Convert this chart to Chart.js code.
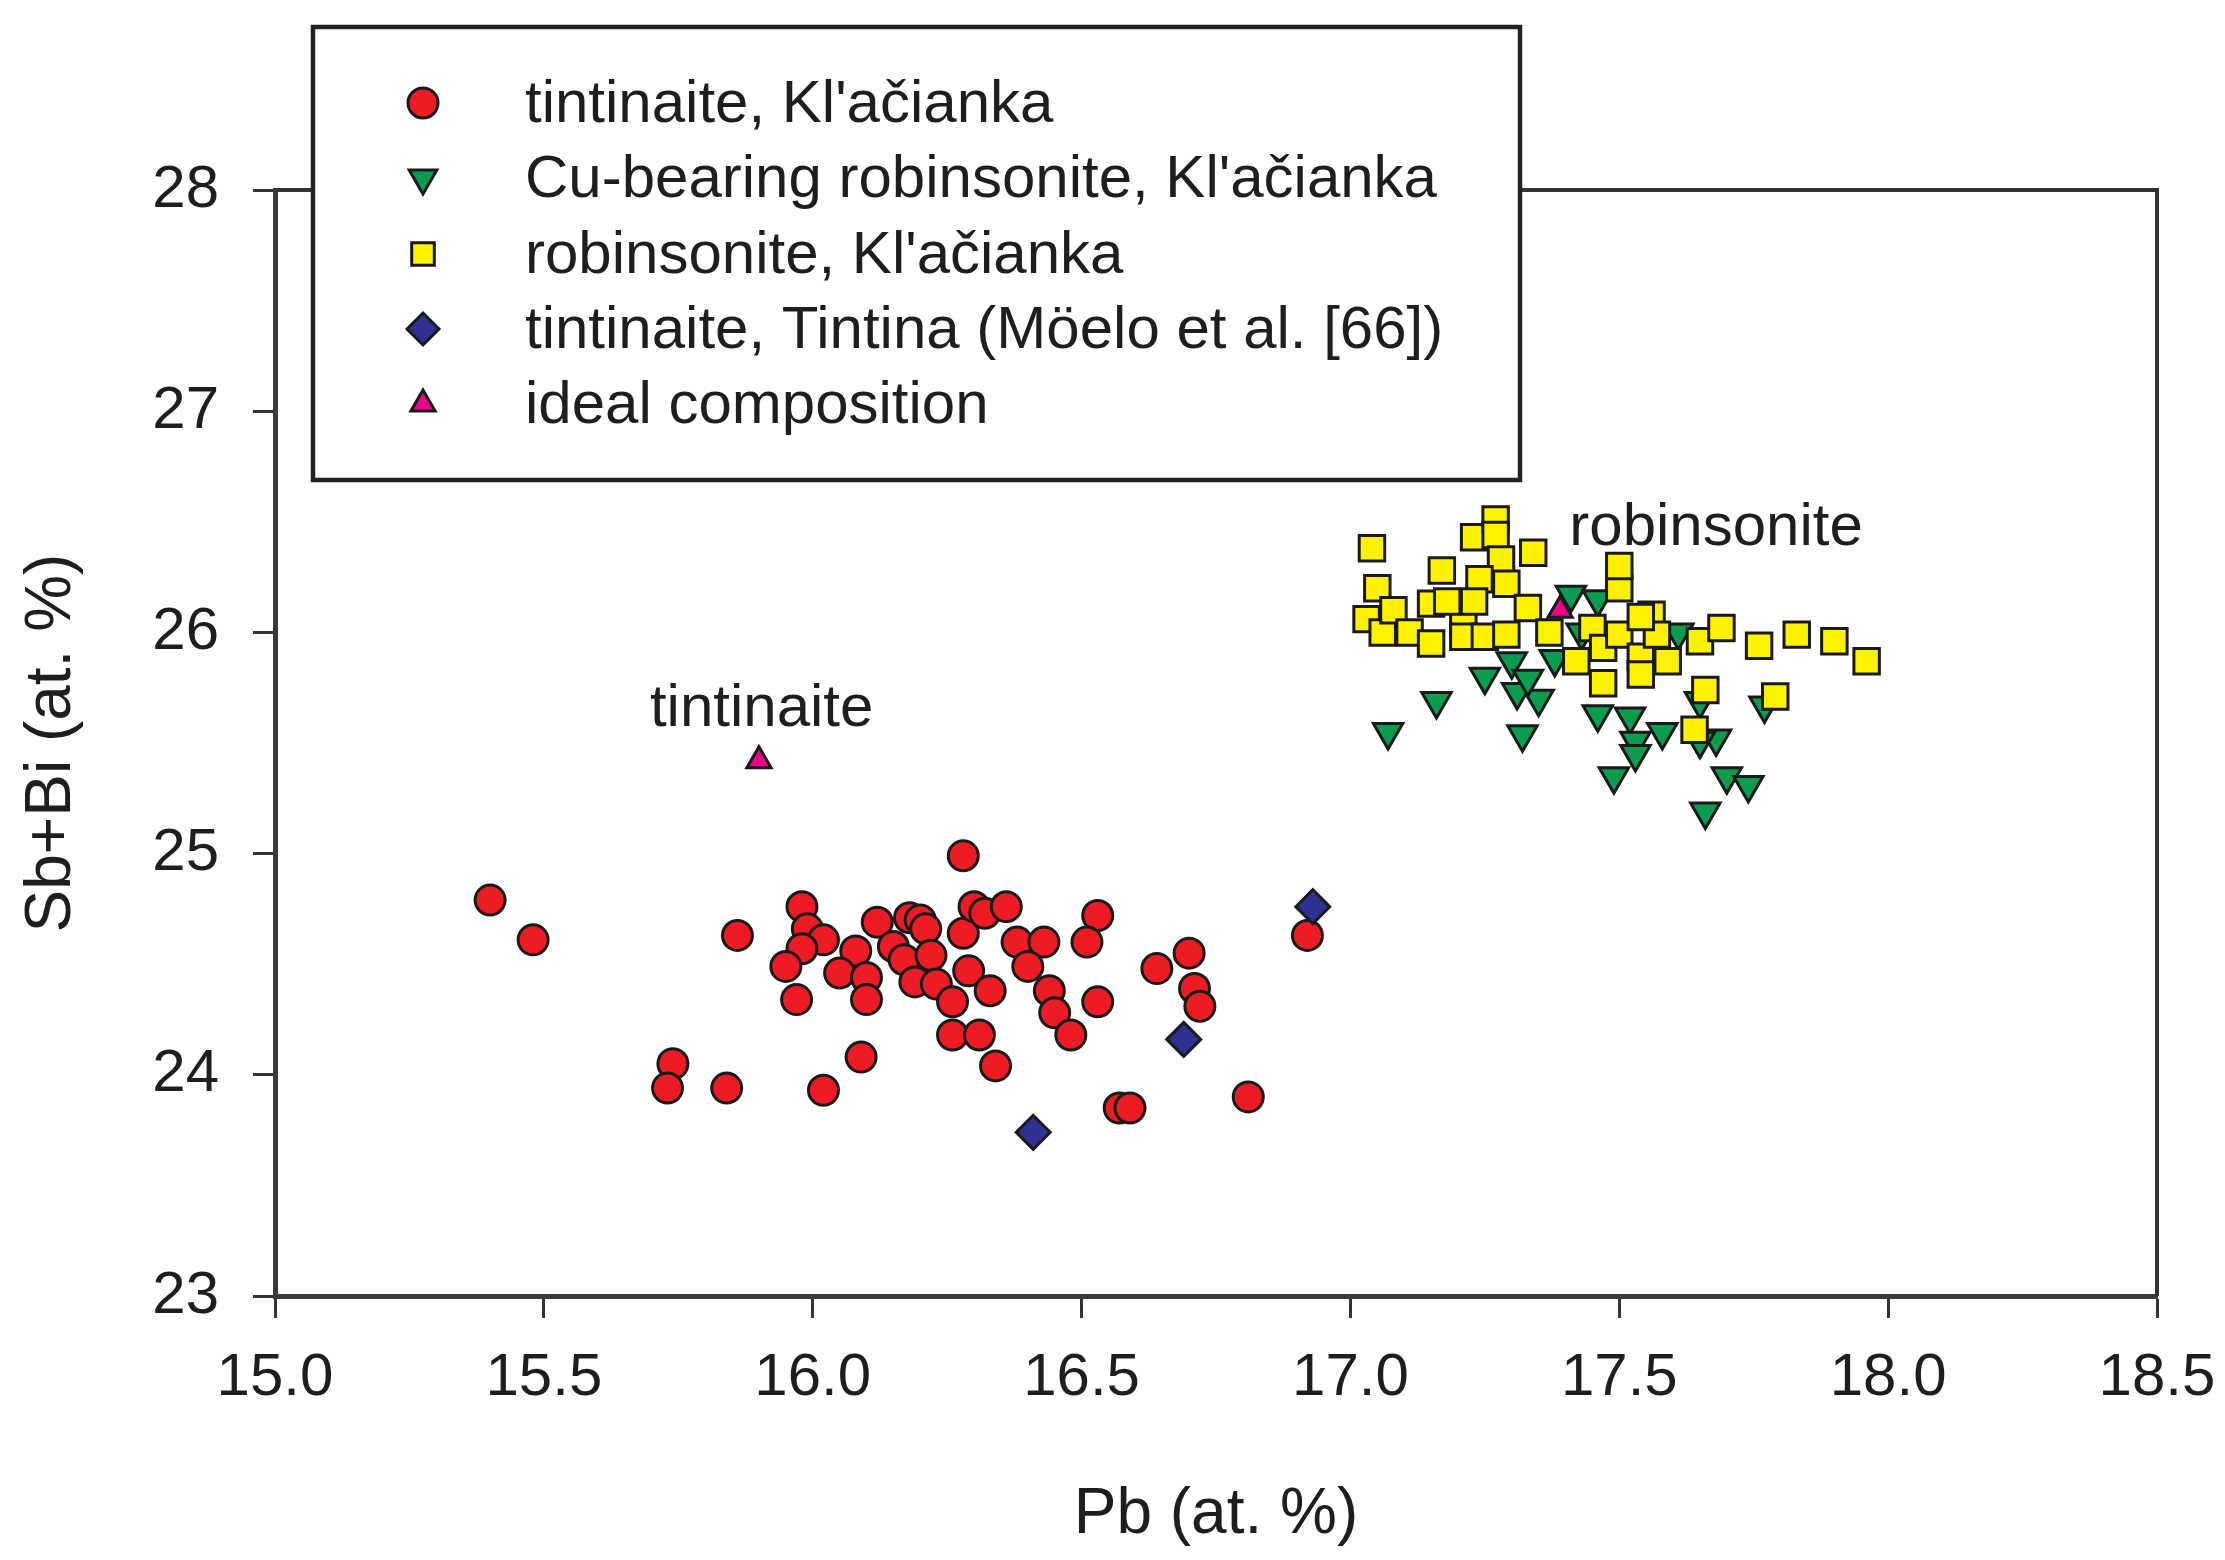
<!DOCTYPE html>
<html>
<head>
<meta charset="utf-8">
<script src="https://cdn.jsdelivr.net/npm/chart.js@4.4.1/dist/chart.umd.min.js"></script>
<style>
  html, body { margin: 0; padding: 0; background: #ffffff; }
  #wrap { width: 2225px; height: 1560px; position: relative; }
</style>
</head>
<body>
<div id="wrap"><canvas id="c"></canvas></div>
<script>
// ---------------- DATA ----------------
const seriesNames = [
  "tintinaite, Kl'ačianka",
  "Cu-bearing robinsonite, Kl'ačianka",
  "robinsonite, Kl'ačianka",
  "tintinaite, Tintina (Möelo et al. [66])",
  "ideal composition"
];

const tintinaiteKlacPb = [15.40,15.48,15.86,16.28,15.98,15.99,16.02,15.98,15.95,15.97,16.12,16.08,16.05,16.10,16.10,16.18,16.20,16.21,16.15,16.17,16.22,16.19,16.23,16.26,16.28,16.30,16.32,16.36,16.29,16.33,16.38,16.43,16.40,16.44,16.45,16.53,16.51,16.53,16.26,16.31,16.48,16.34,15.74,15.73,15.84,16.09,16.02,16.57,16.59,16.81,16.64,16.70,16.71,16.72,16.92];
const tintinaiteKlacSbBi = [24.79,24.61,24.63,24.99,24.76,24.66,24.61,24.57,24.49,24.34,24.69,24.56,24.46,24.44,24.34,24.71,24.70,24.66,24.58,24.52,24.54,24.42,24.41,24.33,24.64,24.76,24.73,24.76,24.47,24.38,24.60,24.60,24.49,24.38,24.28,24.72,24.60,24.33,24.18,24.18,24.18,24.04,24.05,23.94,23.94,24.08,23.93,23.85,23.85,23.90,24.48,24.55,24.39,24.31,24.63];

const cuRobinsonitePb = [17.07,17.16,17.25,17.32,17.30,17.35,17.31,17.38,17.41,17.46,17.46,17.52,17.53,17.53,17.49,17.58,17.65,17.68,17.70,17.74,17.66,17.77,17.65,17.43,17.61,17.33];
const cuRobinsoniteSbBi = [25.55,25.69,25.80,25.54,25.87,25.70,25.73,25.88,26.17,26.15,25.63,25.62,25.51,25.45,25.35,25.55,25.69,25.52,25.35,25.31,25.19,25.67,25.51,26.00,26.00,25.79];

const robinsonitePb = [17.04,17.05,17.03,17.06,17.08,17.11,17.15,17.17,17.15,17.21,17.21,17.23,17.27,17.27,17.28,17.24,17.29,17.25,17.29,17.33,17.34,17.23,17.18,17.37,17.42,17.45,17.47,17.47,17.50,17.50,17.50,17.54,17.54,17.56,17.57,17.59,17.65,17.69,17.66,17.64,17.76,17.83,17.90,17.96,17.79,17.54];
const robinsoniteSbBi = [26.38,26.20,26.06,26.00,26.10,26.00,25.95,26.28,26.13,26.05,25.98,26.43,26.51,26.44,26.33,26.24,26.22,25.98,25.99,26.11,26.36,26.14,26.14,26.00,25.87,26.02,25.93,25.77,25.99,26.20,26.30,25.89,25.81,26.08,25.99,25.87,25.96,26.02,25.74,25.56,25.94,25.99,25.96,25.87,25.71,26.07];

const tintinaPb = [16.93,16.69,16.41];
const tintinaSbBi = [24.76,24.16,23.74];

const idealPb = [15.90,17.39];
const idealSbBi = [25.42,26.10];

const xTicks = [15.0,15.5,16.0,16.5,17.0,17.5,18.0,18.5];
const yTicks = [23,24,25,26,27,28];

const annotationTexts = ["tintinaite","robinsonite"];
const annotationPb = [15.905,17.68];
const annotationSbBi = [25.65,26.47];

// ---------------- STYLE ----------------
const FONT = "'Liberation Sans', Arial, Helvetica, sans-serif";
const TEXT = '#1e1e1e';
const EDGE = '#1a1a1a';

function pts(xs, ys) { return xs.map((x, i) => ({x: x, y: ys[i]})); }

const datasets = [
  {label: seriesNames[0], data: pts(tintinaiteKlacPb, tintinaiteKlacSbBi), pointStyle: 'circle', pointRadius: 15, pointBackgroundColor: '#ed1c24', order: 3},
  {label: seriesNames[1], data: pts(cuRobinsonitePb, cuRobinsoniteSbBi), pointStyle: 'triangle', pointRotation: 180, pointRadius: 17, pointBackgroundColor: '#0a9d4f', order: 5},
  {label: seriesNames[2], data: pts(robinsonitePb, robinsoniteSbBi), pointStyle: 'rect', pointRadius: 18, pointBackgroundColor: '#fff200', order: 4},
  {label: seriesNames[3], data: pts(tintinaPb, tintinaSbBi), pointStyle: 'rectRot', pointRadius: 17, pointBackgroundColor: '#2e3192', order: 2},
  {label: seriesNames[4], data: pts(idealPb, idealSbBi), pointStyle: 'triangle', pointRadius: 14, pointBackgroundColor: '#ec008c', order: 1}
];
datasets.forEach(d => {
  d.showLine = false;
  d.pointBorderColor = EDGE;
  d.pointBorderWidth = 3;
  d.pointHoverRadius = d.pointRadius;
});

// ---------------- PLUGINS ----------------
const framePlugin = {
  id: 'frame',
  beforeDatasetsDraw(chart) {
    const {ctx, chartArea: a} = chart;
    ctx.save();
    ctx.strokeStyle = '#333';
    ctx.lineWidth = 4;
    ctx.beginPath();
    ctx.moveTo(a.left, a.top);
    ctx.lineTo(a.right, a.top);
    ctx.lineTo(a.right, a.bottom);
    ctx.stroke();
    ctx.restore();
  }
};

function markerFallback(ctx, style, r, rot, x, y) {
  ctx.beginPath();
  if (style === 'circle') {
    ctx.arc(x, y, r, 0, Math.PI * 2);
  } else if (style === 'rect') {
    const s = r * Math.SQRT1_2;
    ctx.rect(x - s, y - s, 2 * s, 2 * s);
  } else if (style === 'rectRot') {
    ctx.moveTo(x, y - r); ctx.lineTo(x + r, y); ctx.lineTo(x, y + r); ctx.lineTo(x - r, y);
  } else {
    let a = (rot || 0) * Math.PI / 180;
    for (let i = 0; i < 3; i++) {
      const px = x + Math.sin(a) * r, py = y - Math.cos(a) * r;
      if (i === 0) ctx.moveTo(px, py); else ctx.lineTo(px, py);
      a += 2 * Math.PI / 3;
    }
  }
  ctx.closePath();
  ctx.fill();
  ctx.stroke();
}

const legendPlugin = {
  id: 'boxLegend',
  afterDraw(chart) {
    const {ctx} = chart;
    const bx = 313, by = 27, bw = 1207, bh = 453;
    ctx.save();
    ctx.fillStyle = '#ffffff';
    ctx.fillRect(bx, by, bw, bh);
    ctx.strokeStyle = '#222';
    ctx.lineWidth = 4.5;
    ctx.strokeRect(bx, by, bw, bh);
    const rows = [103, 178, 254, 329, 404];
    chart.data.datasets.forEach((d, i) => {
      const mx = 423, my = rows[i];
      ctx.fillStyle = d.pointBackgroundColor;
      ctx.strokeStyle = d.pointBorderColor;
      ctx.lineWidth = d.pointBorderWidth;
      const r = Math.min(d.pointRadius, 16);
      if (Chart.helpers && Chart.helpers.drawPoint) {
        Chart.helpers.drawPoint(ctx, {pointStyle: d.pointStyle, rotation: d.pointRotation || 0, radius: r, borderWidth: d.pointBorderWidth}, mx, my);
      } else {
        markerFallback(ctx, d.pointStyle, r, d.pointRotation, mx, my);
      }
      ctx.fillStyle = TEXT;
      ctx.font = '60px ' + FONT;
      ctx.textBaseline = 'middle';
      ctx.textAlign = 'left';
      ctx.fillText(d.label, 525, my + 2);
    });
    ctx.restore();
  }
};

const annotationPlugin = {
  id: 'labels',
  afterDatasetsDraw(chart) {
    const {ctx, scales} = chart;
    ctx.save();
    ctx.fillStyle = TEXT;
    ctx.font = '60px ' + FONT;
    ctx.textAlign = 'center';
    ctx.textBaseline = 'middle';
    annotationTexts.forEach((t, i) => {
      ctx.fillText(t, scales.x.getPixelForValue(annotationPb[i]), scales.y.getPixelForValue(annotationSbBi[i]));
    });
    ctx.restore();
  }
};

// ---------------- CHART ----------------
new Chart(document.getElementById('c'), {
  type: 'scatter',
  data: {datasets: datasets},
  options: {
    responsive: true,
    maintainAspectRatio: false,
    animation: false,
    layout: {padding: {left: 0, right: 68, top: 190, bottom: 0}},
    plugins: {legend: {display: false}, tooltip: {enabled: false}},
    scales: {
      x: {
        type: 'linear',
        min: 15, max: 18.5,
        afterBuildTicks(scale) { scale.ticks = xTicks.map(v => ({value: v})); },
        afterFit(scale) { scale.height = 264; scale.paddingRight = 0; scale.paddingLeft = 0; },
        ticks: {
          callback: v => Number(v).toFixed(1),
          font: {family: FONT, size: 60},
          color: TEXT,
          padding: 24,
          maxRotation: 0,
          autoSkip: false
        },
        grid: {drawOnChartArea: false, drawTicks: true, tickLength: 22, tickWidth: 3, tickColor: '#333'},
        border: {display: true, color: '#3a3a3a', width: 5},
        title: {display: true, text: 'Pb (at. %)', font: {family: FONT, size: 64}, color: TEXT, padding: {top: 0, bottom: 6}}
      },
      y: {
        type: 'linear',
        min: 23, max: 28,
        afterBuildTicks(scale) { scale.ticks = yTicks.map(v => ({value: v})); },
        afterFit(scale) { scale.width = 275; scale.paddingTop = 0; scale.paddingBottom = 0; },
        ticks: {
          callback: v => String(v),
          font: {family: FONT, size: 60},
          color: TEXT,
          padding: 34,
          autoSkip: false
        },
        grid: {drawOnChartArea: false, drawTicks: true, tickLength: 22, tickWidth: 3, tickColor: '#333'},
        border: {display: true, color: '#3a3a3a', width: 5},
        title: {display: true, text: 'Sb+Bi (at. %)', font: {family: FONT, size: 64}, color: TEXT, padding: {top: 14, bottom: 0}}
      }
    }
  },
  plugins: [framePlugin, annotationPlugin, legendPlugin]
});
</script>
</body>
</html>
